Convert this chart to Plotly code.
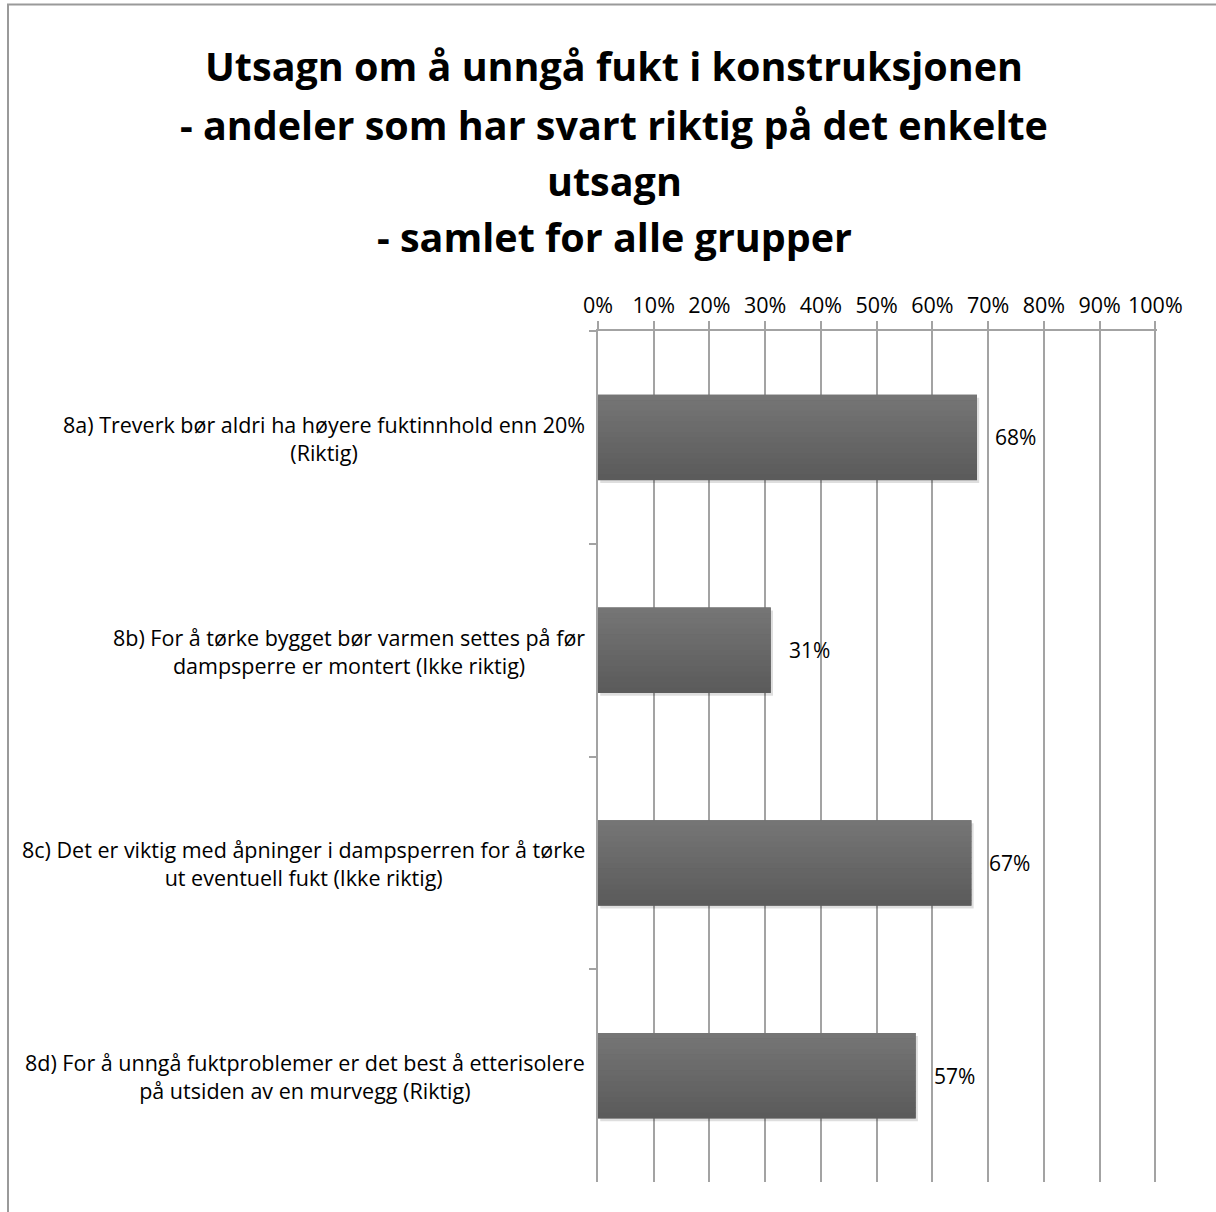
import plotly.graph_objects as go

# Survey statements and share of correct answers
categories = ["8a", "8b", "8c", "8d"]
statement_labels = [
    "8a) Treverk bør aldri ha høyere fuktinnhold enn 20%<br>(Riktig)",
    "8b) For å tørke bygget bør varmen settes på før<br>dampsperre er montert (Ikke riktig)",
    "8c) Det er viktig med åpninger i dampsperren for å tørke<br>ut eventuell fukt (Ikke riktig)",
    "8d) For å unngå fuktproblemer er det best å etterisolere<br>på utsiden av en murvegg (Riktig)",
]
share_correct = [0.68, 0.31, 0.67, 0.57]
value_labels = ["68%", "31%", "67%", "57%"]
tick_values = [0, 0.1, 0.2, 0.3, 0.4, 0.5, 0.6, 0.7, 0.8, 0.9, 1.0]
tick_labels = ["0%", "10%", "20%", "30%", "40%", "50%", "60%", "70%", "80%", "90%", "100%"]
title_lines = [
    "Utsagn om å unngå fukt i konstruksjonen",
    "- andeler som har svart riktig på det enkelte",
    "utsagn",
    "- samlet for alle grupper",
]

W, H = 1216, 1212
L, R, T, B = 598, 59, 331, 30
X_MAX = 1.003
FONT = "Open Sans"
GRID = "#a3a3a3"


def px_x(px):
    return (px - L) / (W - L - R)


def px_y(py):
    return (H - B - py) / (H - T - B)


fig = go.Figure()

BAR_W = 0.40

# soft drop shadow under each bar
fig.add_trace(go.Bar(
    x=share_correct, y=categories, orientation="h",
    base=0.004, width=BAR_W, offset=-BAR_W / 2 + 0.014,
    marker=dict(color="rgba(0,0,0,0.13)", line=dict(width=0)),
    hoverinfo="skip", showlegend=False,
))

# solid bar body
fig.add_trace(go.Bar(
    x=share_correct, y=categories, orientation="h",
    width=BAR_W, offset=-BAR_W / 2,
    marker=dict(color="#676767", line=dict(width=0)),
    hoverinfo="skip", showlegend=False,
))

# vertical shading: lighter at the top, darker at the bottom
N = 16
top_rgb, bot_rgb = (117, 117, 117), (91, 91, 91)
for i in range(N):
    t = i / (N - 1)
    c = tuple(round(a + (b - a) * t) for a, b in zip(top_rgb, bot_rgb))
    fig.add_trace(go.Bar(
        x=share_correct, y=categories, orientation="h",
        width=BAR_W / N + 0.002, offset=-BAR_W / 2 + i * BAR_W / N,
        marker=dict(color="rgb(%d,%d,%d)" % c, line=dict(width=0)),
        hoverinfo="skip", showlegend=False,
    ))

annotations = []
# value labels to the right of each bar
for cat, v, lab in zip(categories, share_correct, value_labels):
    annotations.append(dict(
        x=v, y=cat, xref="x", yref="y", text=lab, showarrow=False,
        xanchor="left", yanchor="middle", xshift=16,
        font=dict(family=FONT, size=21, color="#000000"),
    ))

# centred, wrapped category labels left of the axis
for cat, lab in zip(categories, statement_labels):
    annotations.append(dict(
        x=0, y=cat, xref="paper", yref="y", text=lab, showarrow=False,
        xanchor="right", yanchor="middle", xshift=-11, yshift=-1, align="center",
        font=dict(family=FONT, size=21.5, color="#000000"),
    ))

# chart title, one line per annotation for tight control of spacing
for py, line in zip([66, 125, 181, 237], title_lines):
    annotations.append(dict(
        x=px_x(614), y=px_y(py), xref="paper", yref="paper", text="<b>%s</b>" % line,
        showarrow=False, xanchor="center", yanchor="middle",
        font=dict(family=FONT, size=39.5, color="#000000"),
    ))

fig.update_layout(
    width=W, height=H,
    margin=dict(l=L, r=R, t=T, b=B, pad=0),
    paper_bgcolor="#ffffff", plot_bgcolor="#ffffff",
    barmode="overlay", bargap=0.6,
    showlegend=False,
    annotations=annotations,
    shapes=[dict(
        type="rect", xref="paper", yref="paper",
        x0=px_x(8), x1=px_x(1230), y0=px_y(1230), y1=px_y(4.5),
        line=dict(color="#9a9a9a", width=2), fillcolor="rgba(0,0,0,0)", layer="below",
    )],
    xaxis=dict(
        side="top", range=[0, X_MAX], tickvals=tick_values, ticktext=tick_labels,
        showgrid=True, gridcolor=GRID, gridwidth=1.5,
        showline=True, linecolor=GRID, linewidth=1.5,
        ticks="outside", ticklen=8, tickcolor=GRID, tickwidth=1.5,
        tickfont=dict(family=FONT, size=21.5, color="#000000"),
        zeroline=False, fixedrange=True,
    ),
    yaxis=dict(
        type="category", categoryorder="array", categoryarray=categories,
        autorange="reversed", showticklabels=False, showgrid=False,
        showline=True, linecolor=GRID, linewidth=1.5,
        ticks="outside", tickson="boundaries", ticklen=7, tickcolor=GRID, tickwidth=1.5,
        zeroline=False, fixedrange=True,
    ),
)

fig.write_html("out.html")
